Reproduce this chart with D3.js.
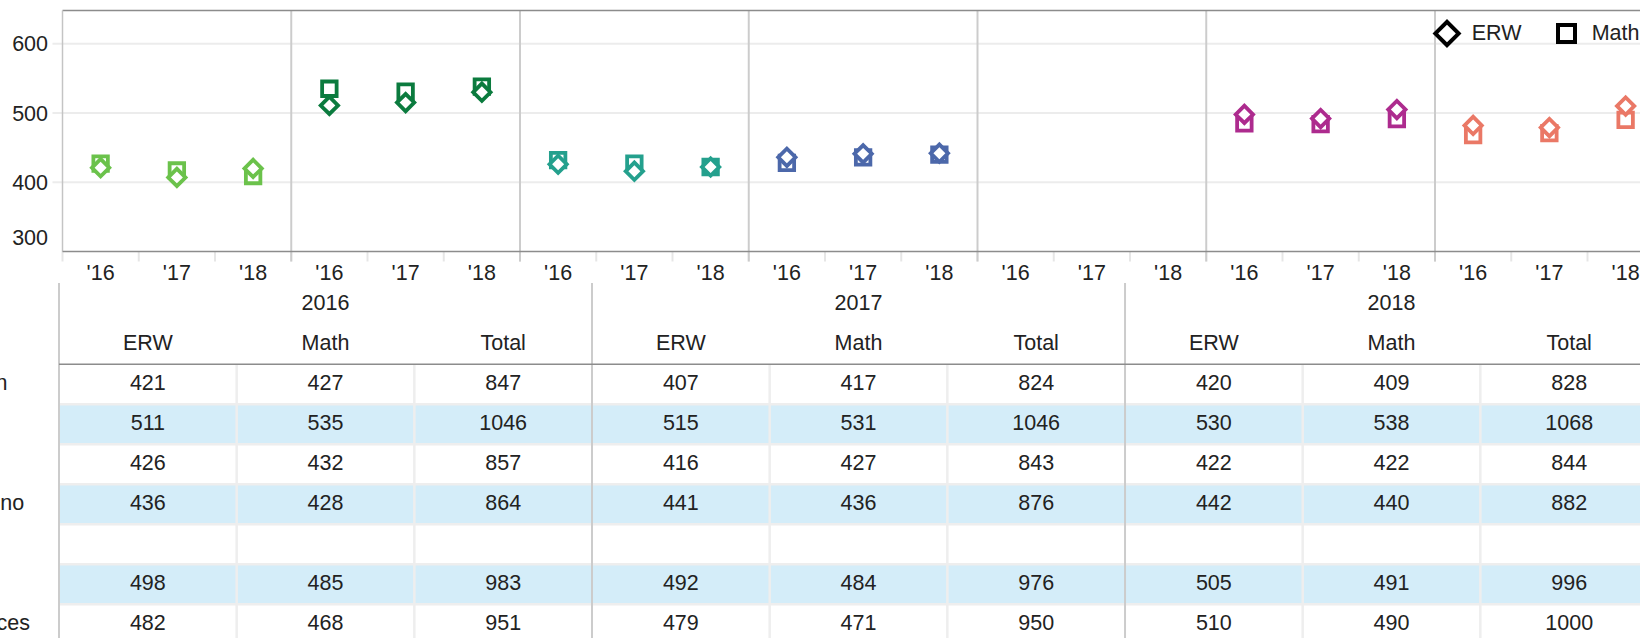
<!DOCTYPE html>
<html>
<head>
<meta charset="utf-8">
<script src="https://cdn.jsdelivr.net/npm/d3@7"></script>
<style>
  body { margin: 0; background: #fff; overflow: hidden; }
  text { font-family: "Liberation Sans", Arial, sans-serif; font-size: 21.5px; fill: #222; }
</style>
</head>
<body>
<div class="chart"></div>
<script>
// Data
var groups = ["American Indian", "Asian", "Black", "Hispanic or Latino", "Pacific Islander", "White", "Two or more races"];
var years = ["2016", "2017", "2018"];
var yearTicks = ["'16", "'17", "'18"];
var measures = ["ERW", "Math", "Total"];
var colors = ["#6bc24b", "#0b7b3e", "#24a08d", "#4c68aa", "#999999", "#ad2b8e", "#ea7866"];
var erw = [[421, 407, 420], [511, 515, 530], [426, 416, 422], [436, 441, 442], [null, null, null], [498, 492, 505], [482, 479, 510]];
var math = [[427, 417, 409], [535, 531, 538], [432, 427, 422], [428, 436, 440], [null, null, null], [485, 484, 491], [468, 471, 490]];
var total = [[847, 824, 828], [1046, 1046, 1068], [857, 843, 844], [864, 876, 882], [null, null, null], [983, 976, 996], [951, 950, 1000]];
var yTicks = [300, 400, 500, 600];

// Layout
var svgWidth = 1640;
var svgHeight = 638;
var plot = { left: 62.5, top: 10.5, bottom: 251.5, catW: 76.25 };
var table = { left: 59, top: 283, head: 364.3, rowH: 40, colW: 177.67 };

var svg = d3.select(".chart")
  .append("svg")
  .attr("width", svgWidth)
  .attr("height", svgHeight);

// categories: one per group/year pair
var cats = [];
groups.forEach(function(g, gi) {
  years.forEach(function(y, yi) {
    cats.push({ group: gi, year: yi, erw: erw[gi][yi], math: math[gi][yi] });
  });
});

var xScale = d3.scaleBand()
  .domain(d3.range(cats.length))
  .range([plot.left, plot.left + cats.length * plot.catW]);

var yScale = d3.scaleLinear()
  .domain([300, 648])
  .range([plot.bottom, plot.top]);

var chart = svg.append("g");

// grid lines
chart.selectAll(".grid")
  .data(yTicks.filter(function(d) { return d > 300; }))
  .enter()
  .append("line")
  .attr("x1", plot.left - 10)
  .attr("x2", svgWidth)
  .attr("y1", function(d) { return yScale(d); })
  .attr("y2", function(d) { return yScale(d); })
  .attr("stroke", "#ececec")
  .attr("stroke-width", 2);

// y labels (lowest one pushed up to stay inside)
chart.selectAll(".ylab")
  .data(yTicks)
  .enter()
  .append("text")
  .attr("x", 48)
  .attr("y", function(d) { return Math.min(yScale(d), plot.bottom - 14); })
  .attr("dy", "0.35em")
  .attr("text-anchor", "end")
  .text(function(d) { return d; });

// small ticks under the axis at every category edge
chart.selectAll(".xtick")
  .data(d3.range(cats.length + 1))
  .enter()
  .append("line")
  .attr("x1", function(i) { return plot.left + i * xScale.bandwidth(); })
  .attr("x2", function(i) { return plot.left + i * xScale.bandwidth(); })
  .attr("y1", plot.bottom)
  .attr("y2", plot.bottom + 10)
  .attr("stroke", "#e6e6e6")
  .attr("stroke-width", 2);

// group separators
chart.selectAll(".sep")
  .data(d3.range(1, groups.length))
  .enter()
  .append("line")
  .attr("x1", function(i) { return xScale(i * 3); })
  .attr("x2", function(i) { return xScale(i * 3); })
  .attr("y1", plot.top)
  .attr("y2", plot.bottom + 10)
  .attr("stroke", "#cccccc")
  .attr("stroke-width", 2);

// plot frame
chart.append("line")
  .attr("x1", plot.left).attr("x2", svgWidth)
  .attr("y1", plot.top).attr("y2", plot.top)
  .attr("stroke", "#8c8c8c").attr("stroke-width", 1.5);
chart.append("line")
  .attr("x1", plot.left).attr("x2", plot.left)
  .attr("y1", plot.top).attr("y2", plot.bottom)
  .attr("stroke", "#c4c4c4").attr("stroke-width", 1.5);
chart.append("line")
  .attr("x1", plot.left).attr("x2", svgWidth)
  .attr("y1", plot.bottom).attr("y2", plot.bottom)
  .attr("stroke", "#8c8c8c").attr("stroke-width", 1.5);

// x labels
chart.selectAll(".xlab")
  .data(cats)
  .enter()
  .append("text")
  .attr("x", function(d, i) { return xScale(i) + xScale.bandwidth() / 2; })
  .attr("y", 272.3)
  .attr("dy", "0.35em")
  .attr("text-anchor", "middle")
  .text(function(d) { return yearTicks[d.year]; });

// markers: squares (Math) then diamonds (ERW) on top
var squareSym = d3.symbol().type(d3.symbolSquare).size(210);
var diamondSym = d3.symbol().type(d3.symbolSquare).size(150);

chart.selectAll(".math")
  .data(cats.filter(function(d) { return d.math != null; }))
  .enter()
  .append("path")
  .attr("d", squareSym)
  .attr("transform", function(d) {
    var i = d.group * 3 + d.year;
    return "translate(" + (xScale(i) + xScale.bandwidth() / 2) + "," + yScale(d.math) + ")";
  })
  .attr("fill", "#fff")
  .attr("stroke", function(d) { return colors[d.group]; })
  .attr("stroke-width", 3.8);

chart.selectAll(".erw")
  .data(cats.filter(function(d) { return d.erw != null; }))
  .enter()
  .append("path")
  .attr("d", diamondSym)
  .attr("transform", function(d) {
    var i = d.group * 3 + d.year;
    return "translate(" + (xScale(i) + xScale.bandwidth() / 2) + "," + yScale(d.erw) + ") rotate(45)";
  })
  .attr("fill", "#fff")
  .attr("stroke", function(d) { return colors[d.group]; })
  .attr("stroke-width", 3.8);

// legend
var legend = svg.append("g");
legend.append("path")
  .attr("d", d3.symbol().type(d3.symbolSquare).size(272))
  .attr("transform", "translate(1447,33.5) rotate(45)")
  .attr("fill", "#fff").attr("stroke", "#000").attr("stroke-width", 4);
legend.append("text").attr("x", 1471.7).attr("y", 32.7).attr("dy", "0.35em").text("ERW");
legend.append("path")
  .attr("d", d3.symbol().type(d3.symbolSquare).size(289))
  .attr("transform", "translate(1566.5,33.5)")
  .attr("fill", "#fff").attr("stroke", "#000").attr("stroke-width", 4);
legend.append("text").attr("x", 1591.7).attr("y", 32.7).attr("dy", "0.35em").text("Math");

// Table below the chart
var tbl = svg.append("g");
var nCols = years.length * measures.length;
var colScale = d3.scaleBand()
  .domain(d3.range(nCols))
  .range([table.left, table.left + nCols * table.colW]);
var tableRight = table.left + nCols * table.colW;

// row backgrounds
tbl.selectAll(".rowbg")
  .data(groups)
  .enter()
  .append("rect")
  .attr("x", table.left)
  .attr("y", function(d, i) { return table.head + i * table.rowH; })
  .attr("width", tableRight - table.left)
  .attr("height", table.rowH)
  .attr("fill", function(d, i) { return i % 2 ? "#d4edf9" : "#fff"; });

// row divider lines
tbl.selectAll(".rowline")
  .data(d3.range(1, groups.length))
  .enter()
  .append("line")
  .attr("x1", table.left).attr("x2", tableRight)
  .attr("y1", function(i) { return table.head + i * table.rowH; })
  .attr("y2", function(i) { return table.head + i * table.rowH; })
  .attr("stroke", "#eeeeee").attr("stroke-width", 2.5);

// column divider lines in the body
tbl.selectAll(".colline")
  .data(d3.range(1, nCols).filter(function(i) { return i % 3 !== 0; }))
  .enter()
  .append("line")
  .attr("x1", function(i) { return colScale(i); })
  .attr("x2", function(i) { return colScale(i); })
  .attr("y1", table.head).attr("y2", svgHeight)
  .attr("stroke", "#eeeeee").attr("stroke-width", 2.5);

// year block borders
tbl.selectAll(".yearline")
  .data(d3.range(years.length + 1))
  .enter()
  .append("line")
  .attr("x1", function(i) { return table.left + i * 3 * table.colW; })
  .attr("x2", function(i) { return table.left + i * 3 * table.colW; })
  .attr("y1", table.top).attr("y2", svgHeight)
  .attr("stroke", "#cccccc").attr("stroke-width", 2);

// header bottom line
tbl.append("line")
  .attr("x1", table.left).attr("x2", tableRight)
  .attr("y1", table.head).attr("y2", table.head)
  .attr("stroke", "#8c8c8c").attr("stroke-width", 1.5);

// year headers
tbl.selectAll(".yearhead")
  .data(years)
  .enter()
  .append("text")
  .attr("x", function(d, i) { return table.left + (i * 3 + 1.5) * table.colW; })
  .attr("y", 302.3)
  .attr("dy", "0.35em")
  .attr("text-anchor", "middle")
  .text(function(d) { return d; });

// measure headers
tbl.selectAll(".measurehead")
  .data(d3.range(nCols))
  .enter()
  .append("text")
  .attr("x", function(i) { return colScale(i) + colScale.bandwidth() / 2; })
  .attr("y", 342.3)
  .attr("dy", "0.35em")
  .attr("text-anchor", "middle")
  .text(function(i) { return measures[i % 3]; });

// row labels (mostly off the left edge)
tbl.selectAll(".rowlab")
  .data(groups)
  .enter()
  .append("text")
  .attr("x", -148)
  .attr("y", function(d, i) { return table.head + i * table.rowH + 18.4; })
  .attr("dy", "0.35em")
  .text(function(d) { return d; });

// cells
var cells = [];
groups.forEach(function(g, gi) {
  years.forEach(function(y, yi) {
    [erw, math, total].forEach(function(arr, mi) {
      cells.push({ row: gi, col: yi * 3 + mi, value: arr[gi][yi] });
    });
  });
});

tbl.selectAll(".cell")
  .data(cells.filter(function(d) { return d.value != null; }))
  .enter()
  .append("text")
  .attr("x", function(d) { return colScale(d.col) + colScale.bandwidth() / 2; })
  .attr("y", function(d) { return table.head + d.row * table.rowH + 18.4; })
  .attr("dy", "0.35em")
  .attr("text-anchor", "middle")
  .text(function(d) { return d.value; });
</script>
</body>
</html>
